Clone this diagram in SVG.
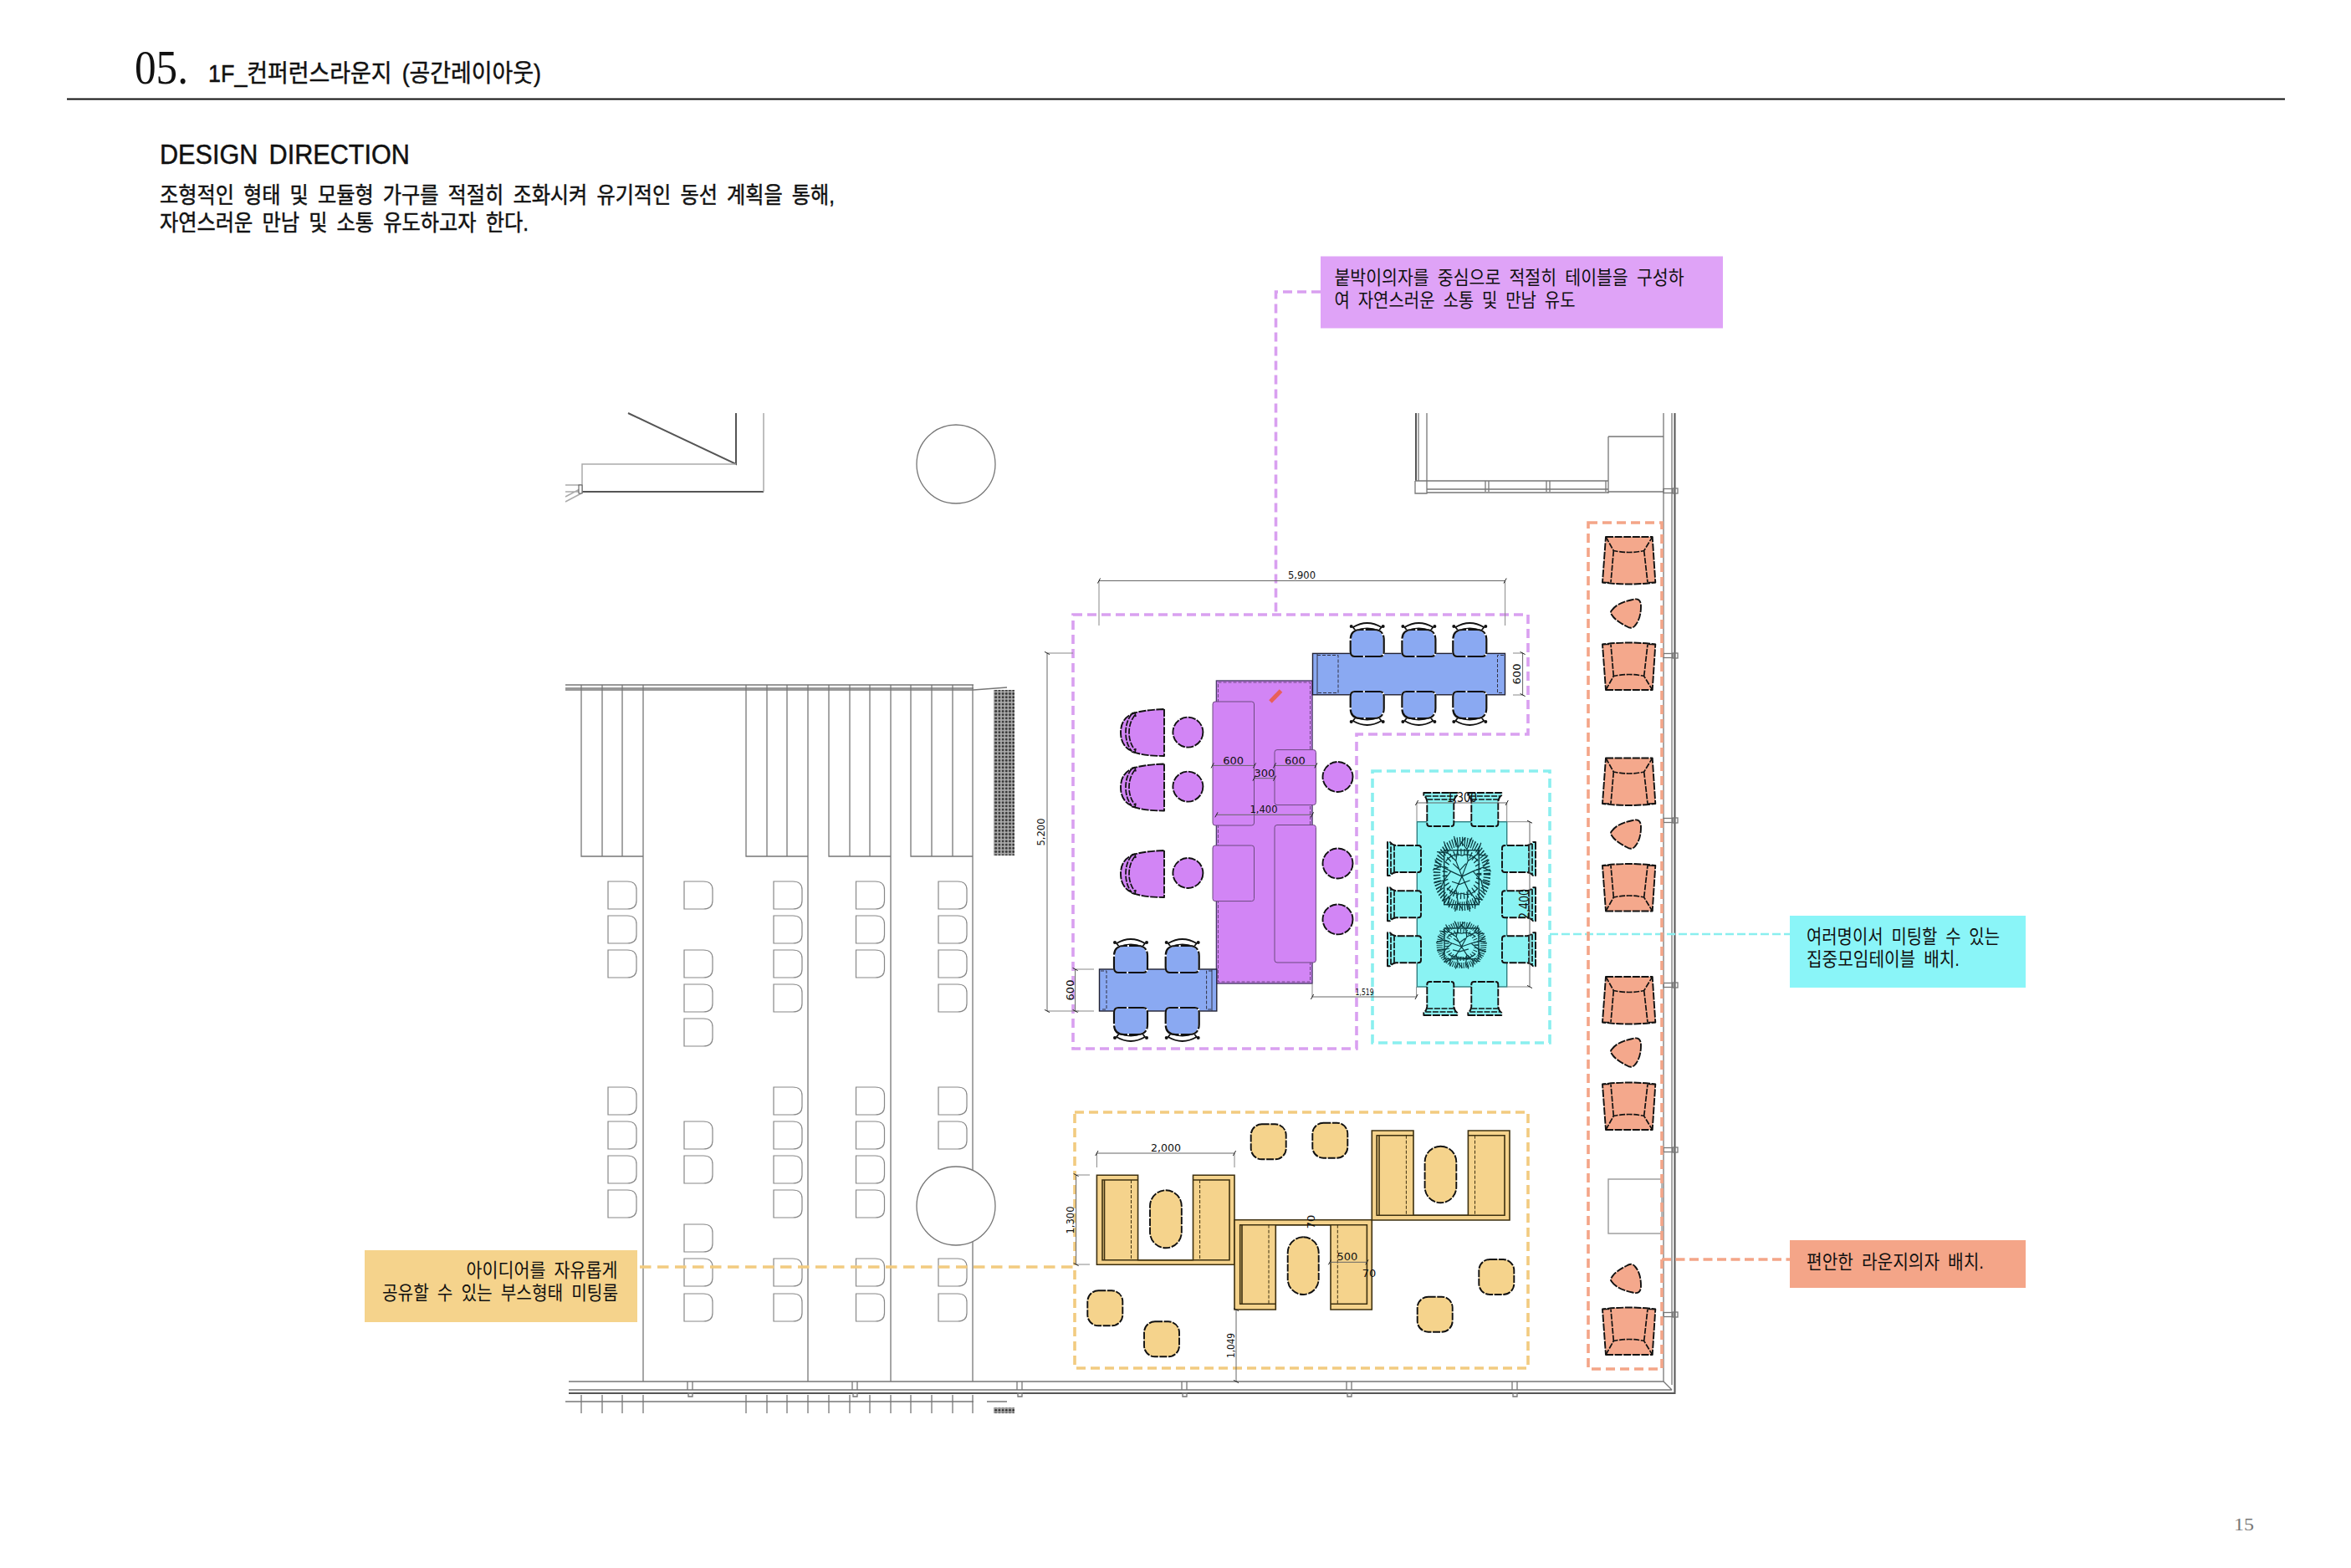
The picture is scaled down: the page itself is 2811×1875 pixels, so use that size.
<svg xmlns="http://www.w3.org/2000/svg" width="2811" height="1875" viewBox="0 0 2811 1875">
<style>
.kr{font-family:"Liberation Sans","Noto Sans CJK KR",sans-serif;fill:#111;word-spacing:5px}
.h{stroke:#111;stroke-width:.5}
.lb{font-size:23px}
.dt{font-family:"DejaVu Sans","Liberation Sans",sans-serif;font-size:13px;fill:#111;text-anchor:middle}
.w{fill:none;stroke:#777;stroke-width:1.3}
.wd{fill:none;stroke:#555;stroke-width:2}
.wl{fill:none;stroke:#aaa;stroke-width:1.5}
.seat{fill:#fff;stroke:#888;stroke-width:1.2}
.dim{fill:none;stroke:#666;stroke-width:1;marker-start:url(#tk);marker-end:url(#tk)}
.ext{fill:none;stroke:#888;stroke-width:1}
.z{fill:none;stroke-width:3.6;stroke-dasharray:11 6}
.blk{stroke:#111;stroke-width:1.9;stroke-dasharray:9 1.6;stroke-linejoin:round}
.thin{fill:none;stroke:#111;stroke-width:1.7;stroke-dasharray:7 1.6}
.p{fill:#D285F5}.b{fill:#8AA9F2}.c{fill:#8AF3F3}.y{fill:#F5D38C}.s{fill:#F4A88C}
.in{fill:#D285F5;stroke:#6d4a80;stroke-width:1}
.tree{fill:none;stroke:#0c3b40;stroke-width:1.2}
</style>
<defs>
<marker id="tk" markerUnits="userSpaceOnUse" markerWidth="10" markerHeight="10" refX="5" refY="5" orient="auto"><path d="M3.4,8 L6.6,2" stroke="#222" stroke-width="1" fill="none"/></marker>
<pattern id="hatch" width="4.2" height="4.2" patternUnits="userSpaceOnUse"><rect width="4.2" height="4.2" fill="#aaa"/><circle cx="2.1" cy="2.1" r="1.4" fill="#333"/></pattern>
<path id="st" class="seat" d="M0,0 H23 Q34,0 34,10 V23 Q34,33 23,33 H0 Z"/>
<g id="bc">
<path fill="#fff" stroke="#111" stroke-width="1.8" d="M-17,-31 Q0,-41 17,-31 L14,-27 Q0,-32 -14,-27 Z"/>
<circle cx="-19" cy="-32" r="2" fill="#111"/><circle cx="19" cy="-32" r="2" fill="#111"/>
<path class="b" stroke="#fff" stroke-width="2.2" d="M-15,4 Q-20,4 -20,-2 L-20,-16 Q-20,-28 -8,-28 L8,-28 Q20,-28 20,-16 L20,-2 Q20,4 15,4 Z"/>
<path fill="none" stroke="#111" stroke-width="2.2" stroke-dasharray="22 2" d="M-15,4 Q-20,4 -20,-2 L-20,-16 Q-20,-28 -8,-28 L8,-28 Q20,-28 20,-16 L20,-2 Q20,4 15,4 Z"/>
</g>
<g id="pc">
<path class="p blk" d="M52,0 L52,56 Q24,56 13,50 Q0,44 0,28 Q0,12 13,6 Q24,1 52,0Z"/>
<path class="thin" d="M13,6 Q6,15 6,28 Q6,41 13,50"/>
<path class="thin" d="M17,7 Q10,16 10,28 Q10,40 17,49"/>
<path fill="none" stroke="#111" stroke-width="1.6" d="M13,5 L17,4 L18,9 M13,51 L17,52 L18,47"/>
</g>
<g id="cc">
<path class="c blk" d="M-20,0 L20,0 L20,3 Q17,5 16,10 L16,37 Q16,40 13,40 L-13,40 Q-16,40 -16,37 L-16,10 Q-17,5 -20,3 Z"/>
<path class="thin" d="M-18,4 H18 M-16,8 H16"/>
</g>
<g id="lc">
<path class="s blk" d="M4,0 L59.7,0 L63.3,54.5 Q31.6,58.5 0,54.5 Z"/>
<path class="thin" d="M4,0 L13.3,16.5 Q31.6,20.5 49.7,16.5 L59.7,0 M13.3,16.5 L10,54.5 M49.7,16.5 L54,54.5"/>
<path fill="none" stroke="#111" stroke-width="1.6" d="M0,54.5 L8,54.5 M55,54.5 L63.3,54.5"/>
</g>
<path id="lt" class="s blk" d="M2,14 Q8,5 27,1 Q37,-2 37,9 Q37,24 30,32 Q26,37 20,33 Q6,26 2,19 Q0,16 2,14Z"/>
<rect id="ot" class="y blk" width="42" height="42" rx="13"/>
<g id="tr">
<circle class="tree" r="25" style="stroke-width:7;stroke-dasharray:1 1.4"/>
<circle class="tree" r="17" style="stroke-width:5;stroke-dasharray:1 2.4"/>
<path class="tree" vector-effect="non-scaling-stroke" d="M0,2 L-6,-10 L-4,-20 L-8,-29 M-4,-20 L3,-28 M-6,-10 L-14,-16 L-18,-25 M-14,-16 L-25,-17 M0,2 L6,-10 L5,-19 L10,-28 M5,-19 L-1,-25 M6,-10 L15,-15 L19,-24 M15,-15 L26,-14 M0,2 L-11,-2 L-21,-6 L-29,-3 M-21,-6 L-27,-11 M-11,-2 L-18,5 L-28,7 M-18,5 L-22,13 M0,2 L11,-2 L21,-5 L29,-2 M21,-5 L27,-11 M11,-2 L19,5 L28,8 M19,5 L22,14 M0,2 L-6,12 L-13,18 L-20,21 M-13,18 L-13,26 M-6,12 L-4,22 L-7,29 M-4,22 L1,28 M0,2 L6,12 L13,19 L21,20 M13,19 L13,27 M6,12 L5,22 L8,29 M-9,-8 L-2,-3 L4,-8 M-10,6 L-2,8 L8,5 M-16,-10 Q-8,-17 0,-14 Q8,-17 16,-10 M-15,11 Q-7,17 0,15 Q8,18 16,11"/>
</g>
</defs>
<rect width="2811" height="1875" fill="#fff"/>

<g id="header">
<text x="161" y="100" font-family="Liberation Serif,serif" font-size="56" fill="#111" textLength="64" lengthAdjust="spacingAndGlyphs">05.</text>
<text class="kr h" x="249" y="98" font-size="29" textLength="398" lengthAdjust="spacingAndGlyphs">1F_컨퍼런스라운지 (공간레이아웃)</text>
<line x1="80" y1="118.5" x2="2732" y2="118.5" stroke="#111" stroke-width="2"/>
<text class="kr h" x="191" y="196" font-size="33" textLength="299" lengthAdjust="spacingAndGlyphs">DESIGN DIRECTION</text>
<text class="kr h" x="191" y="243" font-size="27" textLength="807" lengthAdjust="spacingAndGlyphs">조형적인 형태 및 모듈형 가구를 적절히 조화시켜 유기적인 동선 계획을 통해,</text>
<text class="kr h" x="191" y="276" font-size="27" textLength="441" lengthAdjust="spacingAndGlyphs">자연스러운 만남 및 소통 유도하고자 한다.</text>
<text x="2671" y="1830" font-family="Liberation Serif,serif" font-size="22" fill="#777" textLength="24" lengthAdjust="spacingAndGlyphs">15</text>
</g>

<g id="architecture">
<path class="wd" d="M880,494 V555 L751,494 M695,588 H913"/>
<path class="wl" d="M913,494 V588 M880,555 H696 V590 M676,580 H695 M676,588 H695 M676,594 L695,584 M676,600 L695,590"/>
<rect x="692" y="580" width="4" height="10" fill="#fff" stroke="#555"/>
<circle class="w" cx="1143" cy="555" r="47"/>

<path class="wd" d="M1693,494 V575"/>
<path class="w" d="M1696,494 V575 M1706,494 V575 M1692,575 H1923 M1692,575 V590 H1706 V575 M1706,585 H1923 M1706,589 H1923 M1923,522 V590 M1923,522 H1989 M1923,588 H1989 M1776,575 V588 M1780,575 V588 M1849,575 V588 M1853,575 V588 M1920,575 V588"/>
<path class="w" d="M1989,494 V1652"/>
<path class="w" d="M1999,494 V1656"/>
<path class="wd" d="M2002.500,494 V1666 H680"/>
<path class="w" d="M680,1662 H1999 M769,1652 H1989 L1999,1662 M680,1652 H769"/>
<g class="w" fill="#fff">
<rect x="1989" y="584.500" width="11" height="5"/><rect x="2000" y="584" width="6" height="6"/>
<rect x="1989" y="781.500" width="11" height="5"/><rect x="2000" y="781" width="6" height="6"/>
<rect x="1989" y="978.500" width="11" height="5"/><rect x="2000" y="978" width="6" height="6"/>
<rect x="1989" y="1175.500" width="11" height="5"/><rect x="2000" y="1175" width="6" height="6"/>
<rect x="1989" y="1372.500" width="11" height="5"/><rect x="2000" y="1372" width="6" height="6"/>
<rect x="1989" y="1569.500" width="11" height="5"/><rect x="2000" y="1569" width="6" height="6"/>
</g>
<path class="w" d="M822,1652 V1662 M828,1652 V1662 M1019,1652 V1662 M1025,1652 V1662 M1216,1652 V1662 M1222,1652 V1662 M1413,1652 V1662 M1419,1652 V1662 M1610,1652 V1662 M1616,1652 V1662 M1808,1652 V1662 M1814,1652 V1662"/>
<path class="w" d="M823,1666 h5 v4 h-5z M1020,1666 h5 v4 h-5z M1217,1666 h5 v4 h-5z M1414,1666 h5 v4 h-5z M1611,1666 h5 v4 h-5z M1809,1666 h5 v4 h-5z"/>
<path class="w" d="M676,1676 H1164 M1180,1676 H1204"/>
<path class="w" d="M695,1668 V1690 M720,1668 V1690 M744,1668 V1690 M769,1668 V1690 M892,1668 V1690 M917,1668 V1690 M941,1668 V1690 M966,1668 V1690 M991,1668 V1690 M1016,1668 V1690 M1040,1668 V1690 M1065,1668 V1690 M1089,1668 V1690 M1114,1668 V1690 M1139,1668 V1690 M1163,1668 V1690"/>

<path class="w" d="M676,819 H1164 M676,823 H1164 M676,825 H1164 L1204,822"/>
<path class="w" d="M695,819 V1024 H769 M720,819 V1024 M744,819 V1024 M769,819 V1652 M892,819 V1024 H966 M917,819 V1024 M941,819 V1024 M966,819 V1652 M991,819 V1024 H1065 M1016,819 V1024 M1040,819 V1024 M1065,819 V1652 M1089,819 V1024 H1163 M1114,819 V1024 M1139,819 V1024 M1163,819 V1652"/>
<rect x="1188" y="825" width="25" height="198" fill="url(#hatch)"/>
<rect x="1188" y="1683" width="25" height="7" fill="url(#hatch)"/>

<g id="seats">
<use href="#st" x="727" y="1054"/><use href="#st" x="727" y="1095"/><use href="#st" x="727" y="1136"/><use href="#st" x="727" y="1300"/><use href="#st" x="727" y="1341"/><use href="#st" x="727" y="1382"/><use href="#st" x="727" y="1423"/>
<use href="#st" x="818" y="1054"/><use href="#st" x="818" y="1136"/><use href="#st" x="818" y="1177"/><use href="#st" x="818" y="1218"/><use href="#st" x="818" y="1341"/><use href="#st" x="818" y="1382"/><use href="#st" x="818" y="1464"/><use href="#st" x="818" y="1505"/><use href="#st" x="818" y="1547"/>
<use href="#st" x="925" y="1054"/><use href="#st" x="925" y="1095"/><use href="#st" x="925" y="1136"/><use href="#st" x="925" y="1177"/><use href="#st" x="925" y="1300"/><use href="#st" x="925" y="1341"/><use href="#st" x="925" y="1382"/><use href="#st" x="925" y="1423"/><use href="#st" x="925" y="1505"/><use href="#st" x="925" y="1547"/>
<use href="#st" x="1023.500" y="1054"/><use href="#st" x="1023.500" y="1095"/><use href="#st" x="1023.500" y="1136"/><use href="#st" x="1023.500" y="1300"/><use href="#st" x="1023.500" y="1341"/><use href="#st" x="1023.500" y="1382"/><use href="#st" x="1023.500" y="1423"/><use href="#st" x="1023.500" y="1505"/><use href="#st" x="1023.500" y="1547"/>
<use href="#st" x="1122" y="1054"/><use href="#st" x="1122" y="1095"/><use href="#st" x="1122" y="1136"/><use href="#st" x="1122" y="1177"/><use href="#st" x="1122" y="1300"/><use href="#st" x="1122" y="1341"/><use href="#st" x="1122" y="1505"/><use href="#st" x="1122" y="1547"/>
</g>
<circle cx="1143" cy="1442" r="47" fill="#fff" stroke="#777" stroke-width="1.3"/>
<rect x="1923" y="1410" width="64" height="65" fill="#fff" stroke="#999" stroke-width="1.4"/>
</g>

<g id="connectors">
<path class="z" stroke="#D9A0F0" d="M1579,349 H1525.500 V735"/>
<path class="z" stroke="#8AEFEF" style="stroke-width:2.5;stroke-dasharray:10 4" d="M1853,1117 H2140"/>
<path class="z" stroke="#F4A588" style="stroke-dasharray:11 5.5" d="M1987,1506 H2140"/>
<path class="z" stroke="#F2CB80" style="stroke-dasharray:13.5 7.5" d="M765,1515 H1285"/>
</g>

<g id="zones">
<path id="zone-purple" class="z" stroke="#D9A0F0" d="M1283,735 H1827 V878 H1622 V1254 H1283 Z"/>
<rect id="zone-cyan" class="z" stroke="#8AEFEF" x="1641" y="922" width="212" height="325"/>
<rect id="zone-yellow" class="z" stroke="#F2CB80" x="1285" y="1330" width="542" height="306"/>
<rect id="zone-salmon" class="z" stroke="#F4A588" x="1899" y="625" width="88" height="1012"/>
</g>

<g id="purple-table">
<rect class="p" x="1454.400" y="814" width="114.600" height="362" stroke="#4a3a6a" stroke-width="1.4"/>
<rect x="1456.500" y="816" width="110" height="358" fill="none" stroke="#6d4a80" stroke-width="1" stroke-dasharray="4 2"/>
<rect class="in" x="1450" y="839" width="49.500" height="148" rx="3"/>
<rect class="in" x="1524" y="896.600" width="49.400" height="66" rx="3"/>
<rect class="in" x="1450" y="1011" width="49.500" height="66.600" rx="3"/>
<rect class="in" x="1524" y="986.500" width="49.400" height="164.500" rx="3"/>
<line x1="1519" y1="839" x2="1531.500" y2="826" stroke="#E8605A" stroke-width="5"/>
</g>
<g id="purple-seats">
<use href="#pc" x="1340" y="848"/><use href="#pc" x="1340" y="913.500"/><use href="#pc" x="1340" y="1017"/>
<circle class="p blk" cx="1420.400" cy="875.600" r="18"/><circle class="p blk" cx="1420.400" cy="940.600" r="18"/><circle class="p blk" cx="1420.400" cy="1044" r="18"/>
<circle class="p blk" cx="1599.500" cy="929" r="18"/><circle class="p blk" cx="1599.500" cy="1032.500" r="18"/><circle class="p blk" cx="1599.500" cy="1099.400" r="18"/>
</g>

<g id="blue-table-top">
<rect class="b" x="1569.500" y="781.400" width="230" height="49.400" stroke="#223" stroke-width="1.4"/>
<path fill="none" stroke="#334" stroke-width="1" d="M1575,781.400 V830.800"/>
<path fill="none" stroke="#334" stroke-width="1" stroke-dasharray="4 2" d="M1575,783.500 H1600 V828.500 H1575 M1798,783.500 H1790.500 V828.500 H1798"/>
<use href="#bc" transform="translate(1634.700,781)"/><use href="#bc" transform="translate(1696.400,781)"/><use href="#bc" transform="translate(1757.300,781)"/>
<use href="#bc" transform="translate(1634.700,831) scale(1,-1)"/><use href="#bc" transform="translate(1696.400,831) scale(1,-1)"/><use href="#bc" transform="translate(1757.300,831) scale(1,-1)"/>
</g>
<g id="blue-table-left">
<rect class="b" x="1314.500" y="1159" width="140.300" height="50" stroke="#223" stroke-width="1.4"/>
<path fill="none" stroke="#334" stroke-width="1" d="M1449,1159 V1209"/>
<path fill="none" stroke="#334" stroke-width="1" stroke-dasharray="4 2" d="M1316,1161 H1323 V1207 H1316 M1449,1161 H1442.600 V1207 H1449"/>
<use href="#bc" transform="translate(1352,1159)"/><use href="#bc" transform="translate(1413.700,1159)"/>
<use href="#bc" transform="translate(1352,1209) scale(1,-1)"/><use href="#bc" transform="translate(1413.700,1209) scale(1,-1)"/>
</g>

<g id="cyan-table">
<rect class="c" x="1694.300" y="982.700" width="107.400" height="197.300" stroke="#2f7f80" stroke-width="1.4"/>
<use href="#cc" transform="translate(1722.300,948)"/><use href="#cc" transform="translate(1775.300,948)"/>
<use href="#cc" transform="translate(1722.300,1214) scale(1,-1)"/><use href="#cc" transform="translate(1775.300,1214) scale(1,-1)"/>
<use href="#cc" transform="translate(1659,1027) rotate(-90)"/><use href="#cc" transform="translate(1659,1081.300) rotate(-90)"/><use href="#cc" transform="translate(1659,1135.300) rotate(-90)"/>
<use href="#cc" transform="translate(1836,1027) rotate(90)"/><use href="#cc" transform="translate(1836,1081.300) rotate(90)"/><use href="#cc" transform="translate(1836,1135.300) rotate(90)"/>
<use href="#tr" transform="translate(1748,1045) scale(1.2,1.55)"/>
<use href="#tr" transform="translate(1747.500,1130) scale(1.05,0.98)"/>
<rect x="1726.700" y="1016.700" width="41.600" height="65" fill="none" stroke="#0c3b40" stroke-width="1.4"/>
<rect x="1727" y="1110" width="41" height="36.700" fill="none" stroke="#0c3b40" stroke-width="1.4"/>
</g>

<g id="booth-1">
<path class="y" stroke="#3d3010" stroke-width="1.6" d="M1311.400,1405.300 H1360.600 V1506.700 H1426.500 V1405.300 H1476 V1512.300 H1311.400 Z"/>
<path fill="none" stroke="#3d3010" stroke-width="1.6" d="M1360.600,1411 H1318 V1506.700 H1470 V1411 H1426.500 M1320.500,1411 V1506.700"/>
<path fill="none" stroke="#3d3010" stroke-width="1" stroke-dasharray="4 2" d="M1352.500,1411 V1506.700 M1434.600,1411 V1506.700"/>
<rect class="y blk" x="1375" y="1423.300" width="37.800" height="69" rx="18.900"/>
</g>
<g id="booth-2">
<path class="y" stroke="#3d3010" stroke-width="1.6" d="M1476,1458.700 H1640.300 V1566 H1591 V1464.700 H1525.300 V1566 H1476 Z"/>
<path fill="none" stroke="#3d3010" stroke-width="1.6" d="M1525.300,1559.300 H1482.700 V1464.700 H1634.400 V1559.300 H1591 M1485,1464.700 V1559.300"/>
<path fill="none" stroke="#3d3010" stroke-width="1" stroke-dasharray="4 2" d="M1517,1464.700 V1559.300 M1599.300,1464.700 V1559.300"/>
<rect class="y blk" x="1539.700" y="1479.300" width="37" height="68.700" rx="18.500"/>
</g>
<g id="booth-3">
<path class="y" stroke="#3d3010" stroke-width="1.6" d="M1640.300,1352 H1690 V1453.300 H1755.400 V1352 H1805 V1459 H1640.300 Z"/>
<path fill="none" stroke="#3d3010" stroke-width="1.6" d="M1690,1357.700 H1646.200 V1453.300 H1799 V1357.700 H1755.400 M1649,1357.700 V1453.300"/>
<path fill="none" stroke="#3d3010" stroke-width="1" stroke-dasharray="4 2" d="M1681.400,1357.700 V1453.300 M1763.500,1357.700 V1453.300"/>
<rect class="y blk" x="1703.600" y="1370.700" width="37.700" height="67.600" rx="18.800"/>
</g>
<g id="ottomans">
<use href="#ot" x="1495.700" y="1344.300"/><use href="#ot" x="1569.300" y="1342.700"/><use href="#ot" x="1300.300" y="1543.300"/><use href="#ot" x="1368" y="1580.300"/><use href="#ot" x="1694.700" y="1550.700"/><use href="#ot" x="1768.300" y="1506"/>
</g>

<g id="lounge">
<use href="#lc" x="1916" y="642"/><use href="#lt" x="1925" y="716"/><use href="#lc" transform="translate(1916,825) scale(1,-1)"/>
<use href="#lc" x="1916" y="906.500"/><use href="#lt" x="1925" y="980"/><use href="#lc" transform="translate(1916,1089.500) scale(1,-1)"/>
<use href="#lc" x="1916" y="1168"/><use href="#lt" x="1925" y="1241"/><use href="#lc" transform="translate(1916,1351) scale(1,-1)"/>
<use href="#lt" transform="translate(1925,1546.500) scale(1,-1)"/><use href="#lc" transform="translate(1916,1620) scale(1,-1)"/>
</g>

<g id="dimensions">
<path class="ext" d="M1314,695 V748 M1799.600,695 V748 M1252,781 H1283 M1252,1209 H1290 M1809,781 H1821 M1809,831 H1821 M1285.600,1159 H1308 M1285.600,1209 H1308 M1569,1176 V1192 M1693.600,1180 V1192 M1694,960 V982 M1801.700,960 V982 M1801.700,982.700 H1829 M1801.700,1180 H1829 M1311.400,1379 V1396 M1476,1379 V1396 M1287,1405 H1303 M1287,1512 H1303"/>
<path class="dim" d="M1314,694.500 H1799.600"/><text class="dt" x="1556.500" y="692" textLength="33" lengthAdjust="spacingAndGlyphs">5,900</text>
<path class="dim" d="M1252,781 V1209"/><text class="dt" transform="translate(1249,995) rotate(-90)" textLength="33" lengthAdjust="spacingAndGlyphs">5,200</text>
<path class="dim" d="M1820.600,781 V831"/><text class="dt" transform="translate(1818,806) rotate(-90)">600</text>
<path class="dim" d="M1285.600,1159 V1209"/><text class="dt" transform="translate(1284,1184) rotate(-90)">600</text>
<path class="dim" d="M1449.700,915.400 H1500"/><text class="dt" x="1474.600" y="914">600</text>
<path class="dim" d="M1499.500,930.700 H1524"/><text class="dt" x="1512" y="929">300</text>
<path class="dim" d="M1524,915.400 H1573.400"/><text class="dt" x="1548.500" y="914">600</text>
<path class="dim" d="M1454.400,974.300 H1569"/><text class="dt" x="1511" y="972" textLength="33" lengthAdjust="spacingAndGlyphs">1,400</text>
<path class="dim" d="M1569,1192 H1693.600"/><text class="dt" x="1631.600" y="1190" style="font-size:11px" textLength="22" lengthAdjust="spacingAndGlyphs">1,519</text>
<path class="dim" d="M1694,960 H1801.700"/><text class="dt" x="1748" y="959" style="font-size:15px" textLength="36" lengthAdjust="spacingAndGlyphs">1,300</text>
<path class="dim" d="M1829,982.700 V1180"/><text class="dt" transform="translate(1828,1081) rotate(-90)" style="font-size:15px" textLength="36" lengthAdjust="spacingAndGlyphs">2,400</text>
<path class="dim" d="M1311.400,1379 H1476"/><text class="dt" x="1394" y="1376.500" textLength="36" lengthAdjust="spacingAndGlyphs">2,000</text>
<path class="dim" d="M1286.600,1405 V1512"/><text class="dt" transform="translate(1284,1459) rotate(-90)" textLength="33" lengthAdjust="spacingAndGlyphs">1,300</text>
<path class="dim" d="M1478,1566 V1652"/><text class="dt" transform="translate(1476,1609) rotate(-90)" textLength="30" lengthAdjust="spacingAndGlyphs">1,049</text>
<path class="dim" d="M1590,1509.300 H1634.400"/><text class="dt" x="1611" y="1507">500</text>
<text class="dt" transform="translate(1572,1461) rotate(-90)">70</text>
<text class="dt" x="1637" y="1527">70</text>
</g>

<g id="label-purple"><rect x="1579" y="306.500" width="481" height="86" fill="#DFA3F7"/>
<text class="kr lb" x="1595.500" y="340" textLength="418" lengthAdjust="spacingAndGlyphs">붙박이의자를 중심으로 적절히 테이블을 구성하</text>
<text class="kr lb" x="1595.500" y="367" textLength="288" lengthAdjust="spacingAndGlyphs">여 자연스러운 소통 및 만남 유도</text></g>
<g id="label-cyan"><rect x="2140" y="1095" width="282" height="86" fill="#8AF5F8"/>
<text class="kr lb" x="2160" y="1128" textLength="231" lengthAdjust="spacingAndGlyphs">여러명이서 미팅할 수 있는</text>
<text class="kr lb" x="2160" y="1155" textLength="183" lengthAdjust="spacingAndGlyphs">집중모임테이블 배치.</text></g>
<g id="label-salmon"><rect x="2140" y="1483" width="282" height="57" fill="#F4A588"/>
<text class="kr lb" x="2160" y="1517" textLength="212" lengthAdjust="spacingAndGlyphs">편안한 라운지의자 배치.</text></g>
<g id="label-yellow"><rect x="436" y="1495" width="326" height="86" fill="#F5D38C"/>
<text class="kr lb" x="557.500" y="1527" textLength="181" lengthAdjust="spacingAndGlyphs">아이디어를 자유롭게</text>
<text class="kr lb" x="457" y="1554" textLength="282" lengthAdjust="spacingAndGlyphs">공유할 수 있는 부스형태 미팅룸</text></g>
</svg>
